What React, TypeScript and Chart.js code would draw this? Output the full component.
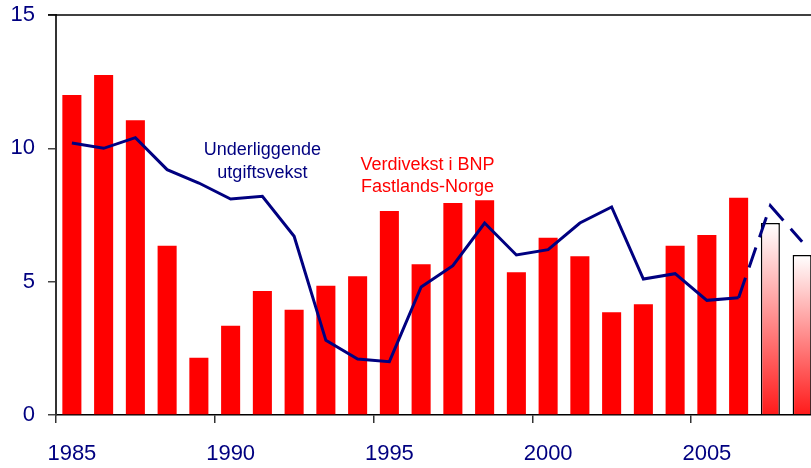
import React, { useEffect, useRef } from 'react';
import { Chart, registerables } from 'chart.js';

Chart.register(...registerables);

const years = [1985, 1986, 1987, 1988, 1989, 1990, 1991, 1992, 1993, 1994, 1995, 1996, 1997, 1998, 1999, 2000, 2001, 2002, 2003, 2004, 2005, 2006, 2007, 2008];
const gdpGrowth = [12.0, 12.75, 11.05, 6.35, 2.15, 3.35, 4.65, 3.95, 4.85, 5.2, 7.65, 5.65, 7.95, 8.05, 5.35, 6.65, 5.95, 3.85, 4.15, 6.35, 6.75, 8.15, 7.2, 6.0];
const spendingGrowth = [10.2, 10.0, 10.4, 9.2, 8.7, 8.1, 8.2, 6.7, 2.8, 2.1, 2.0, 4.8, 5.6, 7.2, 6.0, 6.2, 7.2, 7.8, 5.1, 5.3, 4.3, 4.4, 7.85, 6.5];
const forecastFrom = 22; // 2007 onwards are projections
const yMin = 0;
const yMax = 15;
const yStep = 5;
const lineLabel = ['Underliggende', 'utgiftsvekst'];
const barLabel = ['Verdivekst i BNP', 'Fastlands-Norge'];

const NAVY = '#000080';
const RED = '#FF0000';
const FONT = "'Liberation Sans', Arial, sans-serif";

const annotationPlugin = {
  id: 'annotations',
  afterDraw(chart: any) {
    const { ctx, chartArea, scales } = chart;
    const xs = scales.x;
    const ys = scales.y;
    ctx.save();
    // top border
    ctx.strokeStyle = '#000';
    ctx.lineWidth = 1.5;
    ctx.beginPath();
    ctx.moveTo(chartArea.left - 8, chartArea.top);
    ctx.lineTo(chartArea.right, chartArea.top);
    ctx.stroke();

    const step = xs.getPixelForValue(1) - xs.getPixelForValue(0);
    ctx.font = `18px ${FONT}`;
    ctx.textAlign = 'center';
    ctx.textBaseline = 'alphabetic';
    ctx.fillStyle = NAVY;
    const x1 = xs.getPixelForValue(6);
    ctx.fillText(lineLabel[0], x1, ys.getPixelForValue(9.75));
    ctx.fillText(lineLabel[1], x1, ys.getPixelForValue(8.9));
    ctx.fillStyle = RED;
    const x2 = xs.getPixelForValue(11) + 0.2 * step;
    ctx.fillText(barLabel[0], x2, ys.getPixelForValue(9.2));
    ctx.fillText(barLabel[1], x2, ys.getPixelForValue(8.36));
    ctx.restore();
  },
};

export default function App() {
  const ref = useRef<HTMLCanvasElement | null>(null);

  useEffect(() => {
    if (!ref.current) return;
    const chart = new Chart(ref.current, {
      type: 'bar',
      data: {
        labels: years.map(String),
        datasets: [
          {
            type: 'line',
            label: 'Underliggende utgiftsvekst',
            data: spendingGrowth,
            borderColor: NAVY,
            borderWidth: 3,
            pointRadius: 0,
            fill: false,
            tension: 0,
            order: 0,
            segment: {
              borderDash: (c: any) => (c.p0DataIndex >= forecastFrom - 1 ? [21, 11] : undefined),
            },
          } as any,
          {
            type: 'bar',
            label: 'Verdivekst i BNP Fastlands-Norge',
            data: gdpGrowth,
            order: 1,
            barPercentage: 0.6,
            categoryPercentage: 1,
            borderWidth: (c: any) => (c.dataIndex >= forecastFrom ? 1.5 : 0),
            borderColor: '#000',
            borderSkipped: 'start',
            backgroundColor: (c: any) => {
              const i = c.dataIndex;
              if (i < forecastFrom) return RED;
              const ch = c.chart;
              const ys = ch.scales && ch.scales.y;
              if (!ch.chartArea || !ys) return '#ff8080';
              const top = ys.getPixelForValue(gdpGrowth[i]);
              const bottom = ys.getPixelForValue(0);
              const g = ch.ctx.createLinearGradient(0, top, 0, bottom);
              g.addColorStop(0, '#ffffff');
              g.addColorStop(1, '#ff1a1a');
              return g;
            },
          } as any,
        ],
      },
      options: {
        animation: false,
        responsive: false,
        layout: { padding: { top: 15, right: 2, left: 0, bottom: 0 } },
        plugins: { legend: { display: false }, tooltip: { enabled: false } },
        scales: {
          x: {
            grid: {
              offset: true,
              drawOnChartArea: false,
              drawTicks: true,
              tickLength: 8,
              tickColor: (c: any) => (c.index !== undefined && years[c.index] % 5 === 0 ? '#333' : 'rgba(0,0,0,0)'),
              lineWidth: 1.5,
            },
            border: { display: true, color: '#000', width: 1.5 },
            ticks: {
              autoSkip: false,
              maxRotation: 0,
              minRotation: 0,
              padding: 18,
              color: NAVY,
              font: { family: FONT, size: 22 },
              callback: (v: any, i: number) => (years[i] % 5 === 0 ? String(years[i]) : ''),
            },
            afterFit: (s: any) => {
              s.height = 53;
              s.paddingLeft = 0;
              s.paddingRight = 0;
            },
          },
          y: {
            min: yMin,
            max: yMax,
            grid: {
              drawOnChartArea: false,
              drawTicks: true,
              tickLength: 8,
              tickColor: '#444',
              lineWidth: 1.5,
            },
            border: { display: true, color: '#333', width: 2 },
            ticks: {
              stepSize: yStep,
              padding: 13,
              color: NAVY,
              font: { family: FONT, size: 22 },
            },
            afterFit: (s: any) => {
              s.width = 56;
              s.paddingTop = 0;
              s.paddingBottom = 0;
            },
          },
        },
      },
      plugins: [annotationPlugin],
    });
    return () => chart.destroy();
  }, []);

  return (
    <div style={{ position: 'fixed', left: 0, top: 0, width: 811, height: 468, overflow: 'hidden', background: '#fff' }}>
      <canvas ref={ref} width={820} height={468} style={{ display: 'block' }} />
    </div>
  );
}
